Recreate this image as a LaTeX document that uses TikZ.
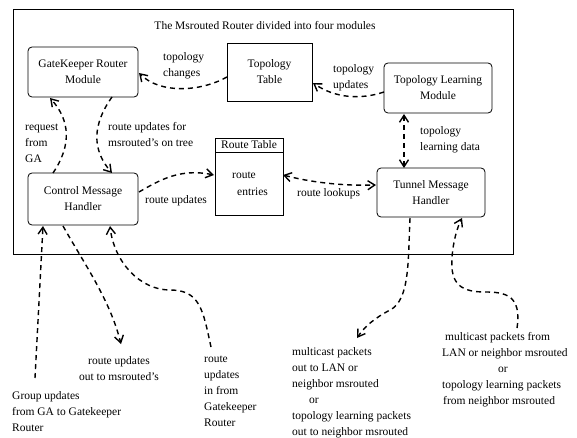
\documentclass[tikz,border=0pt]{standalone}
\usepackage{fontspec}
\setmainfont{Liberation Serif}
\usetikzlibrary{arrows.meta}
\begin{document}
\begin{tikzpicture}[x=1pt,y=-1pt,
  every node/.style={font=\fontsize{11.5}{16}\selectfont},
  module/.style={draw,line width=0.8pt,rounded corners=4pt,align=center,inner sep=0pt},
  table/.style={draw,line width=0.8pt,align=center,inner sep=0pt},
  lbl/.style={align=left,inner sep=0pt,anchor=north west},
  lblc/.style={align=center,inner sep=0pt,anchor=north},
  flow/.style={line width=1.4pt,dash pattern=on 5pt off 4pt,
    -{Straight Barb[length=7pt,width=9pt,line width=1.4pt]}},
  flow2/.style={flow,{Straight Barb[length=7pt,width=9pt,line width=1.4pt]}-{Straight Barb[length=7pt,width=9pt,line width=1.4pt]}}
]
\useasboundingbox (0,0) rectangle (577,438);

% outer frame
\draw[line width=1pt] (13,10) rectangle (513,254);
\node[inner sep=0pt] (title) at (265,26) {The Msrouted Router divided into four modules};

% modules
\node[module,minimum width=110pt,minimum height=50pt] (gk) at (83,72) {GateKeeper Router\\Module};
\node[table,minimum width=85pt,minimum height=58pt] (tt) at (269.5,72) {Topology\\Table};
\node[module,minimum width=108pt,minimum height=50pt] (tl) at (438,88) {Topology Learning\\Module};
\node[module,minimum width=110pt,minimum height=52pt] (cm) at (83,199) {Control Message\\Handler};
\node[module,minimum width=108pt,minimum height=49pt] (tm) at (431,192.5) {Tunnel Message\\Handler};

% route table with header
\node[table,minimum width=68pt,minimum height=77pt] (rt) at (249,176.5) {};
\draw[line width=0.8pt] (215,152) -- (283,152);
\node[inner sep=0pt] (rth) at (249,145) {Route Table};
\node[inner sep=0pt,anchor=west] (rte1) at (232,175) {route};
\node[inner sep=0pt,anchor=west] (rte2) at (237,192) {entries};

% anchor points for the flows
\coordinate (ttL) at (227,77);
\coordinate (gkR) at (139,73);
\coordinate (tlL) at (384,92);
\coordinate (ttR) at (313,83);
\coordinate (cmT1) at (53,173);
\coordinate (gkB1) at (50,98);
\coordinate (gkB2) at (112,97);
\coordinate (cmT2) at (112,173);
\coordinate (cmR) at (139,192);
\coordinate (rtL) at (214,175);
\coordinate (rtR) at (283,175);
\coordinate (tmL) at (376,185);
\coordinate (tlB) at (404,114);
\coordinate (tmT) at (404,168);
\coordinate (cmB1) at (43,226);
\coordinate (cmB2) at (63,226);
\coordinate (cmB3) at (110,226);
\coordinate (tmB1) at (410,218);
\coordinate (tmB2) at (462,218);
\coordinate (ga) at (35,378);
\coordinate (outms) at (121,344);
\coordinate (ingk) at (211,347);
\coordinate (outlan) at (357,338);
\coordinate (inlan) at (517,328);

% flows inside the router
\draw[flow] (ttL) .. controls (200,92) and (160,94) .. (gkR);
\draw[flow] (tlL) .. controls (360,100) and (335,98) .. (ttR);
\draw[flow] (cmT1) .. controls (72,145) and (70,120) .. (gkB1);
\draw[flow] (gkB2) .. controls (92,125) and (92,150) .. (cmT2);
\draw[flow] (cmR) .. controls (160,180) and (180,168) .. (rtL);
\draw[flow2] (rtR) .. controls (310,182) and (340,186) .. (tmL);
\draw[flow2] (tlB) -- (tmT);

% flows crossing the router boundary
\draw[flow] (ga) -- (cmB1);
\draw[flow] (cmB2) .. controls (85,265) and (110,300) .. (outms);
\draw[flow] (ingk) .. controls (203,310) and (200,290) .. (170,290)
                    .. controls (140,290) and (114,262) .. (cmB3);
\draw[flow] (tmB1) .. controls (408,260) and (410,300) .. (390,310)
                    .. controls (375,318) and (365,326) .. (outlan);
\draw[flow] (inlan) .. controls (522,295) and (505,292) .. (485,292)
                     .. controls (462,292) and (450,285) .. (452,258)
                     .. controls (453,242) and (457,228) .. (tmB2);

% labels inside the router
\node[lbl] (l1) at (163,52) {topology\\changes};
\node[lbl] (l2) at (333,64) {topology\\updates};
\node[lbl] (l3) at (25,124) {request\\from\\GA};
\node[lbl] (l4) at (108,122) {route updates for\\msrouted's on tree};
\node[lbl] (l5) at (145,195) {route updates};
\node[lbl] (l6) at (297,188) {route lookups};
\node[lbl] (l7) at (420,126) {topology\\learning data};

% labels outside the router
\node[lblc] (l8) at (119,356) {route updates\\out to msrouted's};
\node[lbl] (l9) at (12,391) {Group updates\\from GA to Gatekeeper\\Router};
\node[lbl] (l10) at (204,356) {route\\updates\\in from\\Gatekeeper\\Router};
\node[lbl] (l11) at (292,347) {multicast packets\\out to LAN or\\neighbor msrouted\\\hspace*{17pt}or\\topology learning packets\\out to neighbor msrouted};
\node[lbl] (l12) at (442,332) {\hspace*{3pt}multicast packets from\\LAN or neighbor msrouted\\\hspace*{56pt}or\\topology learning packets\\\hspace*{1pt}from neighbor msrouted};
\end{tikzpicture}
\end{document}
